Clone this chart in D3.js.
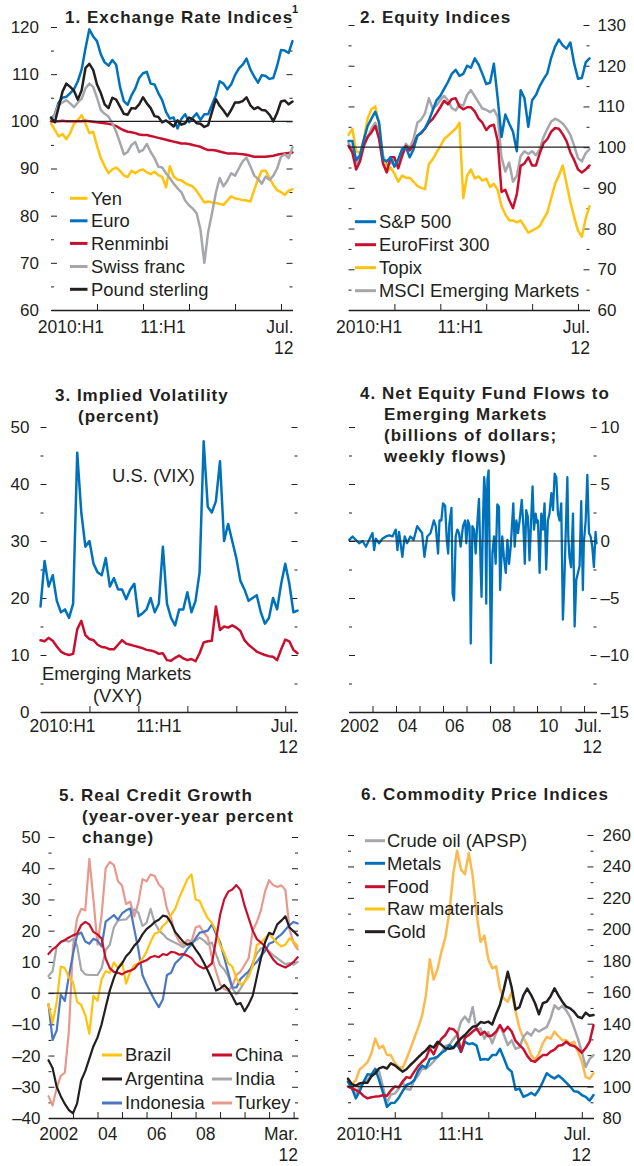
<!DOCTYPE html>
<html><head><meta charset="utf-8">
<script src="https://cdn.jsdelivr.net/npm/d3@7"></script>
<style>
body{margin:0;background:#fff;}
svg{display:block;}
</style></head><body>
<svg id="c" width="634" height="1166"></svg>
<script>
// ---------------- DATA ----------------
// Panels 1,2,3,6: half-month grid, months since Jan 2010
const monthGrid = d3.range(0, 32, 0.5);
const halfYearTicks = [6, 12, 18, 24, 30];

// Panel 1: Exchange rate indices
const yen = [99.5,98.2,96.8,97.3,96.2,97.5,99.5,100.3,101.3,99.5,97.5,97.8,94.8,92.2,90.5,89,89.8,90.2,89.5,88.5,88.2,89.5,89,89.6,89.8,89.2,88.8,89.3,88.6,88.2,86,90.5,88.3,87.6,87.5,86.9,86.5,86.2,85.2,84,82.8,83,82.8,82.7,82.5,82.3,83.2,84.1,83.7,83.5,83.3,83.2,83,85.4,87.8,89.5,89.5,88,86.5,85.4,85,84.4,85.3,85.6];
const euro = [100.5,101.5,104,105,105.2,106,106.8,108.5,111,115.5,119.5,118,117,114.2,112.5,111.8,113,112,107.3,104.3,103.5,105.5,107,109.2,110.2,110.5,108,107.8,106,104.5,102,100.6,100.8,98.5,100.5,101.5,99.8,100.8,101.7,100.3,101.5,101.5,103.5,105.5,108.5,108,106.8,107.8,109.8,111.2,112,113.3,111,109.5,108.2,109.8,109.6,109,109.2,111.8,115.1,115,114.5,117];
const renminbi = [100,100,100,100.1,100,100,100,100,100,100.1,100,99.9,99.8,99.7,99.6,99.5,99.3,99,98.5,98.1,97.8,97.7,97.5,97.2,97.1,97.1,96.9,96.7,96.5,96.3,96.1,95.9,95.7,95.5,95.3,95.3,95.2,95,94.8,94.6,94.2,93.9,93.9,93.8,93.6,93.4,93.2,93.2,93.2,93.1,93,92.9,92.7,92.5,92.5,92.5,92.5,92.6,92.7,92.9,93.1,93.2,93.3,93.4];
const swissFranc = [100.5,101.5,103.5,104,104.5,103.8,103,104,104.8,107,108,107.3,105,102.4,101.6,101,99.6,97.8,95.5,93,93.5,95,95.6,93.5,93.9,95.2,93.5,92.2,90.4,90.2,89,88,86.8,85.8,85,83.2,82.2,81.5,80.5,77,70,76.5,80.5,84.8,88,86.2,87.4,89,88.5,90,91.5,92.3,90.5,88.5,87.8,86.8,88.3,87.6,88.5,90,92.5,93,92.2,94.5];
const poundSterling = [100.8,99.8,103,106.3,108,107.3,106.5,104.6,106.6,111.3,112.2,110.9,107.8,106,103.6,102.8,105,104.6,103.1,101.6,101.4,102.8,102.7,103.6,105.1,103.8,102.8,101.1,100.9,99.8,100.2,99.6,98.9,100.2,99.3,99.6,100.8,100.4,99.6,99.5,98.8,99.2,102,104.7,103.3,102.3,101.1,102.4,104,104,104.3,105.1,103.4,102.6,103,102.4,102.3,101.4,100,101.8,104.2,104.4,103.6,104.2];

// Panel 2: Equity indices
const sp500 = [101.5,101.5,96.8,98,101.8,105.2,107,108.7,106,97,96.5,97.5,95.2,97,99.5,100,97.5,99.5,102.8,103.6,104.6,106.5,109,111.5,112.6,114.3,116,118,119,117.5,118,120,119.5,121.8,120.3,118,115.5,115.8,120.5,112,102.5,108,105.8,103.8,99,114,112,105,111.5,112.8,115,116.7,118.2,122,124.7,126.4,125,124.2,125.7,120.5,116.8,117,120.8,121.8];
const euroFirst = [100.3,98.7,94.5,96.5,100.5,102.5,103.6,105.2,102,96,93.8,97.5,97.5,94.8,97.8,100.3,99.2,100.5,102.8,103.4,104.6,106,106.9,108.3,109.8,111.4,110.5,111.8,112,110,109.3,109.8,109.8,108.8,107,106,104.2,105.2,105.5,101.5,89,89.5,87,85,88.5,95.4,96,97.5,95.5,95.5,98.5,101,102,103.8,104.7,104.5,103.2,101.5,98.7,96.8,94.5,93.8,94.5,95.5];
const topix = [103,104.5,99,98.5,102,107,109.3,110,105.5,97.5,94,95,93.5,91.5,93,92.5,92.5,91.5,90.5,90,89.7,95.8,97,98.7,100.2,102,102.8,103.7,104.5,106,87.5,93,94.5,92.3,92.8,91.8,92.3,90.2,91,89.5,85.5,83.5,82,82,81.5,82,80.5,79,79.5,80,80.6,82.4,84,87.5,91,93,95.5,91,86.5,82.8,79.5,78,82.5,85.5];
const msciEM = [101,99.5,96,97,100,102.5,104.6,106,103.5,98,95.5,96,97,95.5,98.5,100.8,99.8,102,106,106.8,108.3,112,109.5,110.2,111.6,112.6,111.5,109.6,109,110.5,110.2,112.8,114,112.5,111,109.5,109.2,108.6,109.2,107.5,97.5,94,96.2,91.5,93,97.8,99,98.3,99,98,99.5,102.5,104.5,106.3,107,106.5,105.8,104.6,103,100.3,97.3,96.5,98.5,99.5];

// Panel 3: Implied volatility (percent)
const vix = [18.5,26.5,22,24,19.5,17.5,18,16.5,19,45.5,35,29,30,26,24.5,24,27,22,23.5,21.5,21.5,19.8,21.5,22.5,16.8,17.3,18,20,17.5,19,29,19,16.5,15.2,18,18,21,17.5,19.5,24.5,47.5,36,35,37,44,30,33,30,27,23,21.5,19.5,20,20.5,17.5,15.5,16.5,20,18,22.5,26,22.5,17.5,17.8];
const vxy = [12.6,12.4,13,12.5,11.5,10.6,10.2,10,10.2,14.5,16,13.5,12.8,12.6,11.8,11.4,11.3,11,11,11.8,12.6,12,11.8,11.6,11.4,11.2,10.9,10.8,10.6,10.2,10.3,9.1,9,9.5,9.9,9.4,9.1,9.3,8.9,10.3,12.2,12.4,12.5,18.5,14.4,15,14.8,15.2,14.8,14.2,12.6,11.8,11.2,10.6,10.3,10,9.8,9.7,9.1,11,12.7,12.4,10.9,10.3];

// Panel 4: Net equity fund flows to EM (billions of dollars, weekly)
const flowYears = [2002.01,2002.15,2002.29,2002.43,2002.58,2002.72,2002.86,2003.00,2003.07,2003.14,2003.28,2003.42,2003.57,2003.71,2003.85,2003.99,2004.06,2004.13,2004.27,2004.37,2004.47,2004.61,2004.75,2004.90,2004.97,2005.11,2005.21,2005.33,2005.47,2005.61,2005.69,2005.79,2005.85,2005.93,2006.00,2006.09,2006.16,2006.22,2006.27,2006.36,2006.41,2006.47,2006.54,2006.61,2006.68,2006.75,2006.85,2006.94,2006.99,2007.06,2007.13,2007.18,2007.25,2007.32,2007.39,2007.46,2007.53,2007.60,2007.64,2007.70,2007.75,2007.79,2007.84,2007.89,2007.94,2008.00,2008.04,2008.10,2008.17,2008.24,2008.31,2008.38,2008.43,2008.52,2008.59,2008.67,2008.74,2008.81,2008.88,2008.99,2009.05,2009.12,2009.19,2009.26,2009.35,2009.42,2009.48,2009.54,2009.61,2009.68,2009.76,2009.81,2009.87,2009.94,2010.00,2010.04,2010.11,2010.18,2010.25,2010.32,2010.39,2010.46,2010.53,2010.61,2010.68,2010.75,2010.82,2010.89,2010.96,2011.03,2011.10,2011.16,2011.22,2011.29,2011.33,2011.38,2011.45,2011.53,2011.60,2011.67,2011.74,2011.81,2011.88,2011.95,2011.99,2012.07,2012.14,2012.21,2012.28,2012.35,2012.42,2012.49,2012.53];
const flowValues = [0.1,0.4,0.1,-0.2,0,-0.5,0.1,0.7,-0.8,0.2,-0.2,0.2,0.4,0.5,0.4,1.0,-0.8,0.8,-1.4,0.4,-0.2,0.4,0.1,1.3,1.1,0.7,-1.4,0.4,0.7,1.8,1.3,-1.1,1.8,1.8,3.3,3.1,0.1,-1.1,1.5,2.9,-4.6,-5.2,0.4,1.0,0.7,-0.5,1.3,1.8,-0.2,1.8,1.3,-9.0,1.3,1.0,-1.1,1.6,3.7,-2.3,-4.9,1.8,5.6,4.5,-5.5,5.4,6.2,-3.4,-10.7,-1.1,0.4,-2.0,3.2,3.0,-4.3,0.4,-1.4,-2.8,0.1,-2.0,-0.5,3.3,-0.5,1.8,0.7,1.8,3.6,1.3,-2.0,2.7,2.1,-1.7,2.4,4.8,1.0,2.4,1.6,1.8,-2.8,2.4,1.0,3.3,-2.5,1.8,2.4,4.2,2.7,5.9,5.6,2.4,1.8,3.3,-6.9,-3.7,0.7,5.6,0.4,-1.4,-2.3,2.4,-7.5,-3.4,-2.8,-2.2,3.5,-4.3,-0.2,1.8,5.8,0.7,0.4,-0.5,-2.3,0.8,-0.2];

// Panel 5: Real credit growth (y/y percent), bi-monthly from Jan 2002
const creditYears = d3.range(62).map(k => 2002 + k / 6);
const brazil = [-3.5,-9.5,-3,8.5,8,5,3.5,-2.8,-3.8,-7,-13,-0.8,-2.5,4.5,7,6.5,9.8,8,10,3,6.8,9,9.5,11,13.2,16.5,19,19.6,21.5,22.8,25,27,30.5,33.5,36.5,38,30,29.5,26.5,24,22.5,20,15.4,13,9.5,8.5,4.8,2.7,3.5,5.2,8.8,15.4,16.2,17.5,19,17.5,16,15,15.5,17.5,16.5,15];
const china = [12.5,14,15,16.4,17,17.8,18.5,19,21.8,22.8,22,19.6,18.8,17.5,11,8,6.8,6.5,6,6.8,7.2,7.8,9.3,10,10.5,11.5,11.9,11.5,12.5,12.2,13.2,13,12.3,12.5,12,11.2,9.5,8.5,7.9,8.4,9.5,17,25,30,32.5,33.2,34.6,33,28,24,20,17.3,16.2,15,12.8,10.8,9.4,8.8,8.2,9,10,11.5];
const argentina = [-21.5,-24,-30,-33,-35.5,-37.5,-38.5,-35.3,-28,-25,-21,-17,-14.2,-10,-4.5,0.8,4.8,7.9,9.5,11.8,13.2,15.2,16.5,18.8,20.5,21.5,22.8,23.5,24.8,24.5,22.5,19.6,18,16.4,15.5,16,14,12.2,9.8,7.2,4.3,0.8,1.4,2.6,1.2,-1,-3.6,-3.2,-5.8,-3.6,-0.8,5.2,11.2,16.2,19.3,18.8,22,23.2,24.6,21,19.8,18.5];
const india = [5.5,7,15,16.4,16.8,16.5,17.3,15.2,7.5,6,5.8,5.8,5.8,8,13.8,15.5,21,23.3,23.5,23.6,25,26.8,25.8,21.5,22.5,27,22.5,20.2,18.9,17.5,16.8,16.1,15.5,14.7,15.8,16.3,16.8,17.8,16.9,15.6,16.2,12.6,9,7.6,5.3,1.6,-0.4,1.4,3.6,6.3,9.8,12.7,14.3,14.7,13.3,12.2,11.2,10.2,9.3,9.6,9.1,10];
const indonesia = [-3.5,-15,-12,-0.5,-2.5,5.5,12.5,18.6,19.4,16.5,15.8,17.4,16.8,15,22.9,23.9,25,23.5,25.5,26.5,27.1,20.5,14,5.8,2.8,0.2,-2.3,-4.5,-2,5.8,6.5,9.5,10.8,12.2,14.2,15.5,17.5,19.4,19.6,20,22,19,16.4,11.5,6.5,1.8,1.8,4.5,5.8,7,8.8,10,11.8,13.5,15.8,16.4,17.8,18.8,20.3,21.8,22.8,22.3];
const turkey = [-33,-36,-30.5,-26.5,-25.5,-12,15,23.9,27,26.5,43,30,15.5,25,40,42,41,35.9,34.5,28.5,29.3,24.5,29,36.5,35.8,38,37.5,34.8,33.5,27,24,19,16.5,15.4,17,16.5,21,21.5,19.4,17.8,11.5,7,2.8,1.3,0.8,2.3,5.8,6.9,9,11.2,20,22.8,26.5,32.5,36.2,34.6,34,34.5,33,20.5,16,14];

// Panel 6: Commodity price indices
const crudeOil = [103,99,94.6,100,103,104.5,107.5,111.3,109.5,99.5,89.5,95,95.5,98.5,102.8,98.5,98,104,107,111.5,111.2,113.5,116,118.8,121.5,125.8,126.4,130,133,141.3,144.5,141,150.5,136,137,130.5,134.5,127.5,133.8,139,133,126.4,129.5,124,125,131.5,134.5,132.5,136.5,135,136.5,137.8,143.5,151.7,149.2,151.3,148.5,144.3,137.5,130.5,122,112.5,117.5,120];
const metals = [103,99,92.5,97,103,107.8,107.5,111.2,104,96,87,89.5,89.7,92.8,97,101,102,104,110,113.3,112,117.6,118,119,121.5,123,126.4,124.5,127,122,128.5,127,127.5,126,117,117.5,117,120,120,124,118,111.6,109.5,98,98.7,93.5,94.5,96,94.5,98,103,108.5,106.5,105.2,107,105,102.5,100,97,96.7,94.6,93.5,91,94.6];
const food = [100,98.8,97.8,96.5,94,92.5,93.2,93.6,93.8,94.5,94.2,97.5,100,99.5,103.1,106,105.5,109.5,113,115.8,118,124.3,120.5,126.5,130.5,132.8,137,136.5,134,122.2,131,132.8,135,137,133,134.9,132,132.5,134.9,139.1,135,138,135,129,126.4,124,119.5,116.5,115.8,118,120,120,122.2,123.5,126,126.4,128.5,126.4,125.8,124,121.5,124.5,128.5,139];
const rawMaterials = [104,101.5,104,111,113,115.5,121,130.5,124.3,126,120,120,115,112.5,111.8,117.5,124,130.7,137.5,145,158,181,168,175,186,195,211,235,250,238,235,248.5,234,210,192,196,181,175.2,176.5,162,156,154,160,148,137,131,126.5,120,117,121,127.5,131.5,130.5,134.9,132,129.5,129.5,127,128.5,122.2,116,106,105,108.4];
const gold = [105,101.5,100.5,102,102.5,102.5,106.5,108.5,111.6,112.5,111.5,114.8,113.5,111.5,109.5,111,113.7,116,118.5,121,123,126,124.8,128.5,126.5,124.3,124,124.5,128,130.7,132.8,135.5,138,138.5,141,140.5,141.3,139.5,146,152,162,173,163,149,150.5,158,162.3,158.2,153,146,153,154,157.5,162.5,158,154,150.8,149.7,147.6,144.4,143.5,147,145,145.5];

// ---------------- DRAWING ----------------
const FONT = '"Liberation Sans", Arial, Helvetica, sans-serif';
const INK = '#231F20';
const COL = {yellow:'#FFC20E', blue:'#0072BC', red:'#C8102E', grey:'#A5A7AA', black:'#231F20',
             indo:'#4A76C6', turkey:'#E8998D', raw:'#FDB94D'};
const svg = d3.select('#c').attr('font-family', FONT);
const dash = d => d < 0 ? '\u2013' + Math.abs(d) : String(d);

function panel(o){
  const x = d3.scaleLinear().domain(o.xd).range([o.L, o.R]);
  const y = d3.scaleLinear().domain(o.yd).range([o.B, o.T]);
  const g = svg.append('g');
  const maj = d3.range(o.yd[0], o.yd[1] + 1e-6, o.maj);
  const mnr = d3.range(o.yd[0], o.yd[1] + 1e-6, o.mnr).filter(v => maj.every(m => Math.abs(m - v) > 1e-6));
  for (const side of ['left','right']) {
    const px = side === 'left' ? o.L : o.R;
    const mk = () => side === 'left' ? d3.axisLeft(y) : d3.axisRight(y);
    const show = side === o.lab;
    const a1 = g.append('g').attr('transform', `translate(${px},0)`)
      .call(mk().tickValues(maj).tickSize(-6).tickSizeOuter(0).tickPadding(o.pad)
        .tickFormat(show ? (o.fmt || String) : () => ''));
    a1.select('.domain').remove();
    a1.attr('font-size', 17).attr('font-family', FONT).style('color', INK);
    const a2 = g.append('g').attr('transform', `translate(${px},0)`)
      .call(mk().tickValues(mnr).tickSize(-3).tickSizeOuter(0).tickFormat(() => ''));
    a2.select('.domain').remove();
    a2.style('color', INK);
  }
  const xa = g.append('g').attr('transform', `translate(0,${o.B})`)
    .call(d3.axisBottom(x).tickValues(o.xt).tickSize(-6).tickSizeOuter(0).tickFormat(() => ''));
  xa.style('color', INK);
  xa.select('.domain').attr('stroke-width', 1.3);
  o.xl.forEach(l => {
    g.append('text').attr('x', x(l.v)).attr('y', o.lb).attr('text-anchor', 'middle')
      .attr('font-size', 17.5).attr('fill', INK).text(l.t);
  });
  o.endLab.forEach((t, i) => {
    g.append('text').attr('x', o.endX).attr('y', o.lb + i * 20.5).attr('text-anchor', 'end')
      .attr('font-size', 17.5).attr('fill', INK).text(t);
  });
  const line = xs => d3.line().x((d, i) => x(xs[i])).y(d => y(d)).curve(d3.curveLinear);
  o.series.forEach(s => {
    g.append('path').datum(s.v).attr('d', line(s.x))
      .attr('fill', 'none').attr('stroke', s.c).attr('stroke-width', s.w || 2.5)
      .attr('stroke-linejoin', 'round').attr('stroke-linecap', 'round');
  });
  if (o.ref !== undefined) {
    g.append('line').attr('x1', o.L).attr('x2', o.R).attr('y1', y(o.ref)).attr('y2', y(o.ref))
      .attr('stroke', INK).attr('stroke-width', 1.2);
  }
  return {x, y, g};
}

function title(lines){
  lines.forEach(l => svg.append('text').attr('x', l[0]).attr('y', l[1]).attr('font-size', 17)
    .attr('font-weight', 'bold').attr('letter-spacing', 1).attr('fill', INK).text(l[2]));
}
function legend(items, x1, x2, tx){
  items.forEach(it => {
    svg.append('line').attr('x1', x1).attr('x2', x2).attr('y1', it.y).attr('y2', it.y)
      .attr('stroke', it.c).attr('stroke-width', 3);
    svg.append('text').attr('x', tx).attr('y', it.y + 6.3).attr('font-size', 18.4)
      .attr('fill', INK).text(it.t);
  });
}

// ----- Panel 1 -----
panel({L:51, R:292.5, T:27, B:310, xd:[0,31.5], yd:[60,120], maj:10, mnr:5, lab:'left', pad:12,
  xt:halfYearTicks, lb:333, xl:[{v:2.6,t:'2010:H1'},{v:14.6,t:'11:H1'}], endLab:['Jul.','12'], endX:293.5,
  ref:100,
  series:[
    {x:monthGrid, v:yen, c:COL.yellow},
    {x:monthGrid, v:euro, c:COL.blue},
    {x:monthGrid, v:renminbi, c:COL.red},
    {x:monthGrid, v:swissFranc, c:COL.grey},
    {x:monthGrid, v:poundSterling, c:COL.black}
  ]});
title([[65, 23, '1. Exchange Rate Indices']]);
svg.append('text').attr('x', 292).attr('y', 13).attr('font-size', 11).attr('font-weight', 'bold')
  .attr('fill', INK).text('1');
legend([
  {t:'Yen', c:COL.yellow, y:198.3},
  {t:'Euro', c:COL.blue, y:220.8},
  {t:'Renminbi', c:COL.red, y:243.4},
  {t:'Swiss franc', c:COL.grey, y:266.5},
  {t:'Pound sterling', c:COL.black, y:289.3}
], 70, 87.5, 91);

// ----- Panel 2 -----
panel({L:348.5, R:589.5, T:25, B:310, xd:[0,31.5], yd:[60,130], maj:10, mnr:5, lab:'right', pad:8,
  xt:halfYearTicks, lb:333, xl:[{v:2.7,t:'2010:H1'},{v:14.6,t:'11:H1'}], endLab:['Jul.','12'], endX:590,
  ref:100,
  series:[
    {x:monthGrid, v:msciEM, c:COL.grey},
    {x:monthGrid, v:topix, c:COL.yellow},
    {x:monthGrid, v:euroFirst, c:COL.red},
    {x:monthGrid, v:sp500, c:COL.blue}
  ]});
title([[360, 23, '2. Equity Indices']]);
legend([
  {t:'S&P 500', c:COL.blue, y:221.7},
  {t:'EuroFirst 300', c:COL.red, y:244.7},
  {t:'Topix', c:COL.yellow, y:267.7},
  {t:'MSCI Emerging Markets', c:COL.grey, y:290.7}
], 355, 376, 379);

// ----- Panel 3 -----
panel({L:40.5, R:297.5, T:427, B:712, xd:[0,31.5], yd:[0,50], maj:10, mnr:5, lab:'left', pad:11,
  xt:halfYearTicks, lb:732, xl:[{v:2.7,t:'2010:H1'},{v:14.5,t:'11:H1'}], endLab:['Jul.','12'], endX:298,
  series:[
    {x:monthGrid, v:vix, c:COL.blue},
    {x:monthGrid, v:vxy, c:COL.red}
  ]});
title([[55, 401, '3. Implied Volatility'], [78, 422, '(percent)']]);
[[112, 482, 'U.S. (VIX)'], [42, 680, 'Emerging Markets'], [93, 702, '(VXY)']].forEach(a =>
  svg.append('text').attr('x', a[0]).attr('y', a[1]).attr('font-size', 18.4).attr('fill', INK).text(a[2]));

// ----- Panel 4 -----
panel({L:349, R:596.5, T:427, B:712, xd:[2002,2012.53], yd:[-15,10], maj:5, mnr:2.5, lab:'right', pad:4,
  fmt:dash, xt:d3.range(2003, 2013), lb:732,
  xl:[{v:2002.45,t:'2002'},{v:2004.5,t:'04'},{v:2006.5,t:'06'},{v:2008.5,t:'08'},{v:2010.5,t:'10'}],
  endLab:['Jul.','12'], endX:602, ref:0,
  series:[{x:flowYears, v:flowValues, c:COL.blue, w:2.3}]});
title([[360, 399, '4. Net Equity Fund Flows to'], [384, 420, 'Emerging Markets'],
       [384, 441, '(billions of dollars;'], [384, 462, 'weekly flows)']]);

// ----- Panel 5 -----
panel({L:48.5, R:298, T:837, B:1118, xd:[2002,2012.18], yd:[-40,50], maj:10, mnr:5, lab:'left', pad:8,
  fmt:dash, xt:d3.range(2003, 2013), lb:1140,
  xl:[{v:2002.42,t:'2002'},{v:2004.42,t:'04'},{v:2006.42,t:'06'},{v:2008.42,t:'08'}],
  endLab:['Mar.','12'], endX:298, ref:0,
  series:[
    {x:creditYears, v:turkey, c:COL.turkey, w:2.2},
    {x:creditYears, v:india, c:COL.grey, w:2.2},
    {x:creditYears, v:indonesia, c:COL.indo, w:2.2},
    {x:creditYears, v:brazil, c:COL.yellow, w:2.2},
    {x:creditYears, v:china, c:COL.red, w:2.2},
    {x:creditYears, v:argentina, c:COL.black, w:2.2}
  ]});
title([[59, 801, '5. Real Credit Growth'], [82, 822, '(year-over-year percent'], [82, 843, 'change)']]);
legend([
  {t:'Brazil', c:COL.yellow, y:1055},
  {t:'Argentina', c:COL.black, y:1079},
  {t:'Indonesia', c:COL.indo, y:1103}
], 102, 122, 125);
legend([
  {t:'China', c:COL.red, y:1055},
  {t:'India', c:COL.grey, y:1079},
  {t:'Turkey', c:COL.turkey, y:1103}
], 212, 232, 235);

// ----- Panel 6 -----
panel({L:348, R:593.5, T:835, B:1118, xd:[0,31.5], yd:[80,260], maj:20, mnr:10, lab:'right', pad:9,
  xt:halfYearTicks, lb:1140, xl:[{v:2.76,t:'2010:H1'},{v:14.5,t:'11:H1'}], endLab:['Jul.','12'], endX:591,
  ref:100,
  series:[
    {x:monthGrid, v:rawMaterials, c:COL.raw},
    {x:monthGrid, v:crudeOil, c:COL.grey},
    {x:monthGrid, v:metals, c:COL.blue},
    {x:monthGrid, v:food, c:COL.red},
    {x:monthGrid, v:gold, c:COL.black}
  ]});
title([[361, 800, '6. Commodity Price Indices']]);
legend([
  {t:'Crude oil (APSP)', c:COL.grey, y:840.7},
  {t:'Metals', c:COL.blue, y:863.3},
  {t:'Food', c:COL.red, y:886.7},
  {t:'Raw materials', c:COL.yellow, y:909},
  {t:'Gold', c:COL.black, y:931.7}
], 365, 385, 387);
</script></body></html>
